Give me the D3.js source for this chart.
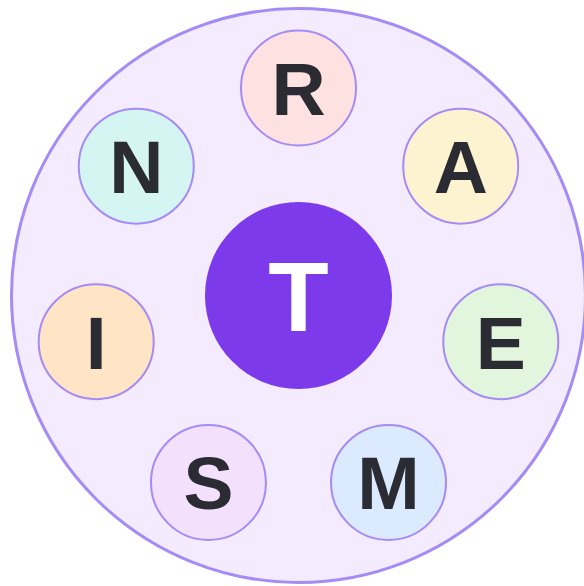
<!DOCTYPE html>
<meta charset="utf-8">
<script src="https://d3js.org/d3.v7.min.js"></script>
<style>
  body { margin: 0; background: #fff; }
</style>
<div id="my_dataviz"></div>
<script>
  // letters round the ring, clockwise from the top
  var letters = ["R", "A", "E", "M", "S", "I", "N"];
  var fills = ["#fee2e2", "#fef3d1", "#e2f5dd", "#dbeafe", "#f2e0fc", "#ffe4c6", "#d5f5f3"];
  var centerLetter = "T";

  var width = 584, height = 586;
  var cx = 298.5, cy = 295.5;

  var svg = d3.select("#my_dataviz")
    .append("svg")
      .attr("width", width)
      .attr("height", height)
    .append("g")
      .attr("transform", "translate(" + cx + "," + cy + ")");

  // angle of each letter
  var angle = d3.scaleLinear()
    .domain([0, letters.length])
    .range([-Math.PI / 2, 3 * Math.PI / 2]);
  var ringR = 207.5;

  // big background circle
  svg.append("circle")
    .attr("r", 287)
    .attr("fill", "#f4ebfe")
    .attr("stroke", "#a58bf5")
    .attr("stroke-width", 3);

  // centre
  svg.append("circle")
    .attr("r", 93.5)
    .attr("fill", "#7c3aea");
  svg.append("text")
    .attr("text-anchor", "middle")
    .attr("y", 35)
    .attr("fill", "#ffffff")
    .style("font-family", "Liberation Sans, Arial, sans-serif")
    .style("font-weight", "bold")
    .style("font-size", "99px")
    .text(centerLetter);

  var nodes = svg.append("g")
    .selectAll("g")
    .data(letters)
    .enter().append("g")
      .attr("transform", function(d, i) {
        return "translate(" + (ringR * Math.cos(angle(i))) + "," + (ringR * Math.sin(angle(i))) + ")";
      });

  nodes.append("circle")
    .attr("r", 57.5)
    .attr("fill", function(d, i) { return fills[i]; })
    .attr("stroke", "#a58bf5")
    .attr("stroke-width", 2);

  nodes.append("text")
    .attr("text-anchor", "middle")
    .attr("y", 27)
    .attr("fill", "#2b2b33")
    .style("font-family", "Liberation Sans, Arial, sans-serif")
    .style("font-weight", "bold")
    .style("font-size", "75px")
    .text(function(d) { return d; });
</script>
